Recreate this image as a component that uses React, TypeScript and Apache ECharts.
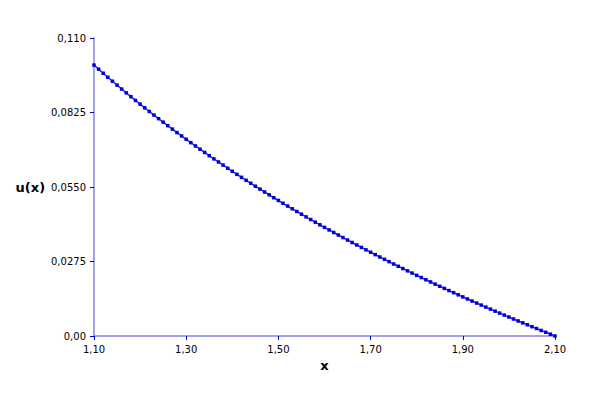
import * as echarts from 'echarts';
import React, { useEffect, useRef } from 'react';

// x grid (one marker every 0,01)
const xValues = [
  1.1, 1.11, 1.12, 1.13, 1.14, 1.15, 1.16, 1.17, 1.18, 1.19,
  1.2, 1.21, 1.22, 1.23, 1.24, 1.25, 1.26, 1.27, 1.28, 1.29,
  1.3, 1.31, 1.32, 1.33, 1.34, 1.35, 1.36, 1.37, 1.38, 1.39,
  1.4, 1.41, 1.42, 1.43, 1.44, 1.45, 1.46, 1.47, 1.48, 1.49,
  1.5, 1.51, 1.52, 1.53, 1.54, 1.55, 1.56, 1.57, 1.58, 1.59,
  1.6, 1.61, 1.62, 1.63, 1.64, 1.65, 1.66, 1.67, 1.68, 1.69,
  1.7, 1.71, 1.72, 1.73, 1.74, 1.75, 1.76, 1.77, 1.78, 1.79,
  1.8, 1.81, 1.82, 1.83, 1.84, 1.85, 1.86, 1.87, 1.88, 1.89,
  1.9, 1.91, 1.92, 1.93, 1.94, 1.95, 1.96, 1.97, 1.98, 1.99,
  2.0, 2.01, 2.02, 2.03, 2.04, 2.05, 2.06, 2.07, 2.08, 2.09,
  2.1,
];

// u(x)
const uValues = [
  0.1, 0.09849, 0.09699, 0.09551, 0.09405, 0.0926, 0.09116, 0.08975, 0.08834, 0.08696,
  0.08559, 0.08423, 0.08288, 0.08155, 0.08023, 0.07893, 0.07764, 0.07636, 0.07509, 0.07384,
  0.0726, 0.07137, 0.07015, 0.06895, 0.06775, 0.06656, 0.06539, 0.06423, 0.06308, 0.06193,
  0.0608, 0.05968, 0.05857, 0.05747, 0.05638, 0.05529, 0.05422, 0.05316, 0.0521, 0.05105,
  0.05002, 0.04899, 0.04797, 0.04696, 0.04595, 0.04496, 0.04397, 0.04299, 0.04202, 0.04105,
  0.04009, 0.03915, 0.0382, 0.03727, 0.03634, 0.03542, 0.03451, 0.0336, 0.0327, 0.0318,
  0.03092, 0.03004, 0.02916, 0.0283, 0.02744, 0.02658, 0.02573, 0.02489, 0.02405, 0.02322,
  0.02239, 0.02157, 0.02076, 0.01995, 0.01915, 0.01835, 0.01756, 0.01677, 0.01599, 0.01521,
  0.01444, 0.01367, 0.01291, 0.01216, 0.01141, 0.01066, 0.00992, 0.00918, 0.00845, 0.00772,
  0.007, 0.00628, 0.00556, 0.00485, 0.00415, 0.00344, 0.00275, 0.00205, 0.00137, 0.00068,
  0,
];

const xTickLabels = ['1,10', '1,30', '1,50', '1,70', '1,90', '2,10'];
const yTickLabels = ['0,00', '0,0275', '0,0550', '0,0825', '0,110'];

const FONT = "'DejaVu Sans', Verdana, sans-serif";

const App: React.FC = () => {
  const chartRef = useRef<HTMLDivElement>(null);

  useEffect(() => {
    if (!chartRef.current) return;
    const chart = echarts.init(chartRef.current, null, { renderer: 'svg' });

    const points = xValues.map((x, i) => [x, uValues[i]]);

    chart.setOption({
      animation: false,
      backgroundColor: '#ffffff',
      grid: { left: 94, right: 45, top: 38, bottom: 64 },
      xAxis: {
        type: 'value',
        min: 1.1,
        max: 2.1,
        interval: 0.2,
        name: 'x',
        nameLocation: 'middle',
        nameGap: 21,
        nameTextStyle: { fontFamily: FONT, fontSize: 13, fontWeight: 'bold', color: '#000' },
        axisLine: { lineStyle: { color: '#8484e4', width: 1.5 } },
        axisTick: { length: 4, lineStyle: { color: '#0000d0', width: 1 } },
        axisLabel: {
          margin: 8,
          fontFamily: FONT,
          fontSize: 10,
          color: '#000',
          formatter: (v: number) => xTickLabels[Math.round((v - 1.1) / 0.2)] ?? '',
        },
        splitLine: { show: false },
      },
      yAxis: {
        type: 'value',
        min: 0,
        max: 0.11,
        interval: 0.0275,
        name: 'u(x)',
        nameLocation: 'middle',
        nameRotate: 0,
        nameGap: 42,
        nameTextStyle: { fontFamily: FONT, fontSize: 13, fontWeight: 'bold', color: '#000' },
        axisLine: { show: true, lineStyle: { color: '#8484e4', width: 1.5 } },
        axisTick: { show: true, length: 4, lineStyle: { color: '#0000d0', width: 1 } },
        axisLabel: {
          margin: 8,
          fontFamily: FONT,
          fontSize: 10,
          color: '#000',
          formatter: (v: number) => yTickLabels[Math.round(v / 0.0275)] ?? '',
        },
        splitLine: { show: false },
      },
      series: [
        {
          type: 'line',
          data: points,
          symbol: 'rect',
          symbolSize: 3.5,
          itemStyle: { color: '#0000d8' },
          lineStyle: { color: '#3030e0', width: 1.5 },
        },
      ],
    });

    return () => {
      chart.dispose();
    };
  }, []);

  return <div ref={chartRef} style={{ width: 600, height: 400, margin: -8 }} />;
};

export default App;
